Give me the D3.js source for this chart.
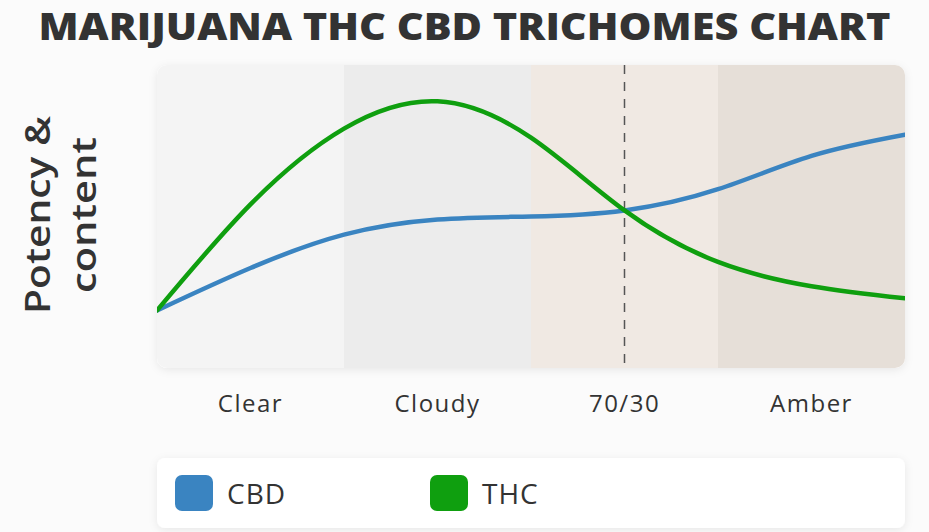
<!DOCTYPE html>
<html>
<head>
<meta charset="utf-8">
<script src="https://cdn.jsdelivr.net/npm/d3@7"></script>
<style>
  body { margin: 0; background: #fbfbfb; }
  text { font-family: "Open Sans", "Noto Sans", sans-serif; fill: #333; }
</style>
</head>
<body>
<div class="chart"></div>
<script>
var svgWidth = 929;
var svgHeight = 532;

// stages of the trichomes (x axis bands)
var stages = ["Clear", "Cloudy", "70/30", "Amber"];
var stageColors = ["#f4f4f4", "#ececec", "#f0e9e3", "#e6dfd8"];

// sample positions along the x axis (in band units) and curve values
var xs = [0, 0.5, 1, 1.5, 2, 2.5, 3, 3.5, 4];
var thc = [19, 54, 79, 88, 76, 52, 35, 27, 23];
var cbd = [19, 33, 44, 49, 50, 52, 59, 70, 77];

var seriesNames = ["CBD", "THC"];
var seriesColors = ["#3a84c1", "#0f9f0f"];

var margin = { top: 65, right: 24, bottom: 164, left: 157 };
var width = svgWidth - margin.left - margin.right;
var height = svgHeight - margin.top - margin.bottom;

var svg = d3.select(".chart")
  .append("svg")
  .attr("width", svgWidth)
  .attr("height", svgHeight);

var defs = svg.append("defs");
var shadow = defs.append("filter").attr("id", "shadow")
  .attr("x", "-5%").attr("y", "-10%").attr("width", "110%").attr("height", "125%");
shadow.append("feDropShadow")
  .attr("dx", 0).attr("dy", 2).attr("stdDeviation", 4)
  .attr("flood-color", "#000").attr("flood-opacity", 0.08);

defs.append("clipPath").attr("id", "card")
  .append("rect")
  .attr("width", width).attr("height", height)
  .attr("rx", 10).attr("ry", 10);

// title
svg.append("text")
  .attr("x", svgWidth / 2)
  .attr("y", 40)
  .attr("text-anchor", "middle")
  .attr("textLength", 852)
  .attr("lengthAdjust", "spacingAndGlyphs")
  .style("font-size", "37px")
  .style("font-weight", 800)
  .text("MARIJUANA THC CBD TRICHOMES CHART");

var chartGroup = svg.append("g")
  .attr("transform", `translate(${margin.left}, ${margin.top})`);

var x = d3.scaleLinear().domain([0, 4]).range([0, width]);
var band = d3.scaleBand().domain(stages).range([0, width]);
var y = d3.scaleLinear().domain([0, 100]).range([height, 0]);

chartGroup.append("rect")
  .attr("width", width).attr("height", height)
  .attr("rx", 10).attr("fill", "#fff")
  .attr("filter", "url(#shadow)");

var inner = chartGroup.append("g").attr("clip-path", "url(#card)");

inner.selectAll("rect.band")
  .data(stages)
  .enter()
  .append("rect")
  .attr("class", "band")
  .attr("x", d => band(d))
  .attr("y", 0)
  .attr("width", band.bandwidth() + 0.5)
  .attr("height", height)
  .attr("fill", (d, i) => stageColors[i]);

// dashed 70/30 marker
inner.append("line")
  .attr("x1", x(2.5)).attr("x2", x(2.5))
  .attr("y1", 0).attr("y2", height)
  .attr("stroke", "#555")
  .attr("stroke-width", 1.5)
  .attr("stroke-dasharray", "9,8");

var line = d3.line()
  .x((d, i) => x(xs[i]))
  .y(d => y(d))
  .curve(d3.curveNatural);

[cbd, thc].forEach(function(values, i) {
  inner.append("path")
    .attr("d", line(values))
    .attr("fill", "none")
    .attr("stroke", seriesColors[i])
    .attr("stroke-width", 4.5)
    .attr("stroke-linecap", "round");
});

// x axis labels
var xAxis = d3.axisBottom(band).tickSize(0).tickPadding(0);
var axisG = chartGroup.append("g")
  .attr("transform", `translate(0, ${height + 44})`)
  .call(xAxis);
axisG.select(".domain").remove();
axisG.selectAll("text")
  .attr("dy", 0)
  .attr("fill", "#333")
  .style("font-size", "24px")
  .style("letter-spacing", "1.5px")
  .style("font-family", "'Open Sans', sans-serif");

// y axis label
var yLabel = svg.append("text")
  .attr("transform", "translate(50, 215) rotate(-90)")
  .attr("text-anchor", "middle")
  .style("font-size", "34px")
  .style("font-weight", 600);
yLabel.append("tspan").attr("x", 0).attr("y", 0)
  .attr("textLength", 198).attr("lengthAdjust", "spacingAndGlyphs")
  .text("Potency &");
yLabel.append("tspan").attr("x", 0).attr("y", 46)
  .attr("textLength", 156).attr("lengthAdjust", "spacingAndGlyphs")
  .text("content");

// legend
var legend = svg.append("g").attr("transform", "translate(157, 458)");
legend.append("rect")
  .attr("width", width).attr("height", 70)
  .attr("rx", 8).attr("fill", "#fff")
  .attr("filter", "url(#shadow)");

var items = legend.selectAll("g.item")
  .data(seriesNames)
  .enter()
  .append("g")
  .attr("class", "item")
  .attr("transform", (d, i) => `translate(${18 + i * 255}, 17)`);

items.append("rect")
  .attr("width", 38).attr("height", 36)
  .attr("rx", 7)
  .attr("fill", (d, i) => seriesColors[i]);

items.append("text")
  .attr("x", 52)
  .attr("y", 29)
  .style("font-size", "28px")
  .style("letter-spacing", "1px")
  .text(d => d);
</script>
</body>
</html>
